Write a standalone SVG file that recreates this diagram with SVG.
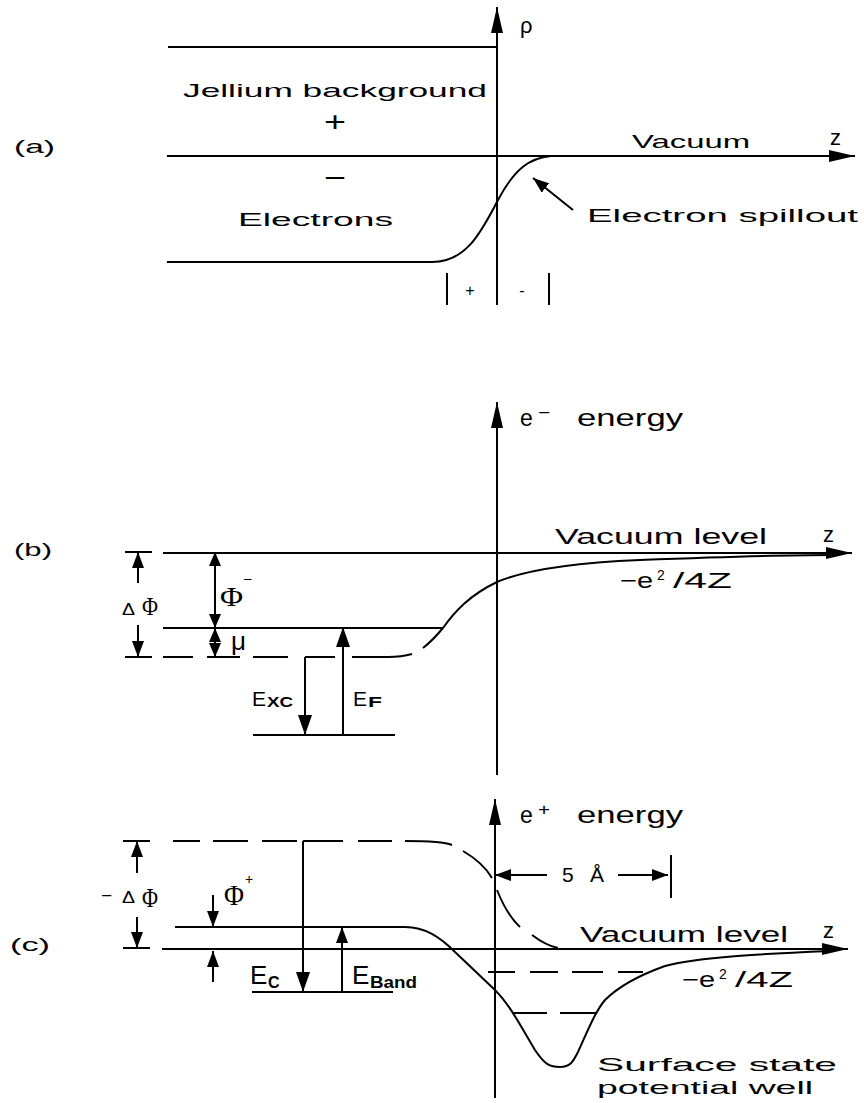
<svg xmlns="http://www.w3.org/2000/svg" width="864" height="1103" viewBox="0 0 864 1103">
<style>
.ln{fill:none;stroke:#000;stroke-width:2}
.t{font-family:"Liberation Sans",Arial,sans-serif;font-size:19px;fill:#000}
.m{font-size:22px}
.s{font-family:"Liberation Serif","Times New Roman",serif}
.b{font-weight:bold}
</style>
<defs>
<marker id="ah" viewBox="0 0 16 12" markerWidth="16" markerHeight="12" refX="16" refY="6" orient="auto-start-reverse" markerUnits="userSpaceOnUse"><path d="M0,0 L16,6 L0,12 z"/></marker>
<marker id="ahb" viewBox="0 0 20 14" markerWidth="20" markerHeight="14" refX="20" refY="7" orient="auto-start-reverse" markerUnits="userSpaceOnUse"><path d="M0,0 L20,7 L0,14 z"/></marker>
<marker id="mh" viewBox="0 0 14 12" markerWidth="14" markerHeight="12" refX="14" refY="6" orient="auto-start-reverse" markerUnits="userSpaceOnUse"><path d="M0,0 L14,6 L0,12 z"/></marker>
<marker id="ax" viewBox="0 0 26 12" markerWidth="26" markerHeight="12" refX="26" refY="6" orient="auto" markerUnits="userSpaceOnUse"><path d="M0,0 L26,6 L0,12 z"/></marker>
</defs>
<rect width="864" height="1103" fill="#fff"/>

<g id="panel-a">
<g id="connectors-a" class="ln">
<path d="M497,305 V7" marker-end="url(#ax)"/>
<path d="M168,47 H497"/>
<path d="M167,156 H855" marker-end="url(#ax)"/>
<path d="M167,262 H432 C465,262 480,235 498,200 C515,168 530,158 551,156"/>
<path d="M573,210 L533,178" marker-end="url(#ah)"/>
<path d="M447,273 V305 M549,273 V305"/>
</g>
<g id="labels-a" class="t">
<text x="14" y="153" textLength="41" lengthAdjust="spacingAndGlyphs">(a)</text>
<text x="520" y="33" font-size="22">ρ</text>
<text x="183" y="97" textLength="304" lengthAdjust="spacingAndGlyphs">Jellium background</text>
<text x="324" y="131" font-size="28" textLength="22" lengthAdjust="spacingAndGlyphs">+</text>
<text x="324" y="187" font-size="28" textLength="22" lengthAdjust="spacingAndGlyphs">−</text>
<text x="632" y="148" textLength="118" lengthAdjust="spacingAndGlyphs">Vacuum</text>
<text x="830" y="145" font-size="22">z</text>
<text x="238" y="226" textLength="155" lengthAdjust="spacingAndGlyphs">Electrons</text>
<text x="587" y="222" textLength="271" lengthAdjust="spacingAndGlyphs">Electron spillout</text>
<text x="470" y="296" font-size="16" text-anchor="middle">+</text>
<text x="522" y="296" font-size="16" text-anchor="middle">-</text>
</g>
</g>

<g id="panel-b">
<g id="connectors-b" class="ln">
<path d="M497,775 V402" marker-end="url(#ax)"/>
<path d="M163,553 H852" marker-end="url(#ax)"/>
<path d="M125,552 H152"/>
<path d="M163,628 H443"/>
<path d="M423,648 C432,641 438,634 443,628 C455,611 470,595 497,582 C525,570 570,563 640,560 C720,557 780,555 830,555"/>
<path d="M125,657 H152 M163,657 H193 M207,657 H240 M253,657 H288 M305,657 H335 M352,657 H388 C398,657 405,656 412,654"/>
<path d="M305,657 V735" marker-end="url(#ahb)"/>
<path d="M253,735 H395"/>
<path d="M343,735 V627" marker-end="url(#ahb)"/>
<path d="M138,583 V552" marker-end="url(#ah)"/>
<path d="M138,625 V657" marker-end="url(#ah)"/>
<path d="M215,552 V628" marker-start="url(#mh)" marker-end="url(#mh)"/>
<path d="M215,628 V657" marker-start="url(#mh)" marker-end="url(#mh)"/>
</g>
<g id="labels-b" class="t">
<text x="14" y="556" textLength="38" lengthAdjust="spacingAndGlyphs">(b)</text>
<text x="520" y="426" font-size="23">e</text>
<text x="538" y="418" font-size="16" textLength="12" lengthAdjust="spacingAndGlyphs">−</text>
<text x="577" y="426" font-size="23" textLength="106" lengthAdjust="spacingAndGlyphs">energy</text>
<text x="555" y="544" class="m" textLength="212" lengthAdjust="spacingAndGlyphs">Vacuum level</text>
<text x="823" y="542" class="m">z</text>
<text x="620" y="588" class="m" textLength="33" lengthAdjust="spacingAndGlyphs">−e</text>
<text x="657" y="580" font-size="14">2</text>
<text x="673" y="588" class="m" textLength="59" lengthAdjust="spacingAndGlyphs">/4Z</text>
<text x="122" y="615" font-size="17" textLength="13" lengthAdjust="spacingAndGlyphs">Δ</text>
<text x="142" y="615" class="s" font-size="26" textLength="16" lengthAdjust="spacingAndGlyphs">Φ</text>
<text x="220" y="606" class="s" font-size="28" textLength="23" lengthAdjust="spacingAndGlyphs">Φ</text>
<text x="243" y="584" font-size="14" textLength="9" lengthAdjust="spacingAndGlyphs">−</text>
<text x="231" y="650" font-size="26">μ</text>
<text x="252" y="706" font-size="21">E</text>
<text x="267" y="707" font-size="14" class="b" textLength="26" lengthAdjust="spacingAndGlyphs">XC</text>
<text x="353" y="706" font-size="21">E</text>
<text x="368" y="707" font-size="14" class="b" textLength="14" lengthAdjust="spacingAndGlyphs">F</text>
</g>
</g>

<g id="panel-c">
<g id="connectors-c" class="ln">
<path d="M495,1098 V799" marker-end="url(#ax)"/>
<path d="M162,949 H848" marker-end="url(#ax)"/>
<path d="M123,948 H150"/>
<path d="M123,841 H150 M173,841 H200 M213,841 H248 M262,841 H297 M303,841 H343 M358,841 H392 M405,841 C430,841 445,842 452,845 M463,851 C475,858 485,866 492,878 M497,890 C503,905 510,918 520,927 M532,935 C540,941 548,946 558,948"/>
<path d="M175,927 H405 C425,927 440,937 455,952 L495,990 C510,1005 520,1025 535,1050 C545,1065 550,1067 560,1067 C570,1067 573,1062 578,1052 C588,1030 595,1012 605,1000 C620,985 640,975 665,966 C700,957 760,954 830,951"/>
<path d="M488,972 H515 M530,972 H558 M572,972 H603 M618,972 H643"/>
<path d="M513,1013 H547 M560,1013 H597"/>
<path d="M547,875 H495" marker-end="url(#ah)"/>
<path d="M618,875 H668" marker-end="url(#ah)"/>
<path d="M671,855 V898"/>
<path d="M303,841 V992" marker-end="url(#ahb)"/>
<path d="M252,992 H393"/>
<path d="M342,992 V927" marker-end="url(#ah)"/>
<path d="M137,873 V841" marker-end="url(#ah)"/>
<path d="M137,917 V948" marker-end="url(#ah)"/>
<path d="M213,895 V927" marker-end="url(#ah)"/>
<path d="M213,982 V951" marker-end="url(#ah)"/>
</g>
<g id="labels-c" class="t">
<text x="10" y="951" textLength="40" lengthAdjust="spacingAndGlyphs">(c)</text>
<text x="520" y="823" font-size="23">e</text>
<text x="538" y="815" font-size="16" textLength="12" lengthAdjust="spacingAndGlyphs">+</text>
<text x="577" y="823" font-size="23" textLength="106" lengthAdjust="spacingAndGlyphs">energy</text>
<text x="562" y="882" font-size="21">5</text>
<text x="590" y="882" font-size="21">Å</text>
<text x="580" y="942" class="m" textLength="208" lengthAdjust="spacingAndGlyphs">Vacuum level</text>
<text x="823" y="938" class="m">z</text>
<text x="682" y="987" class="m" textLength="33" lengthAdjust="spacingAndGlyphs">−e</text>
<text x="719" y="979" font-size="14">2</text>
<text x="735" y="987" class="m" textLength="58" lengthAdjust="spacingAndGlyphs">/4Z</text>
<text x="101" y="901" font-size="16" textLength="11" lengthAdjust="spacingAndGlyphs">−</text>
<text x="122" y="903" font-size="17" textLength="13" lengthAdjust="spacingAndGlyphs">Δ</text>
<text x="142" y="907" class="s" font-size="28" textLength="16" lengthAdjust="spacingAndGlyphs">Φ</text>
<text x="224" y="905" class="s" font-size="30" textLength="20" lengthAdjust="spacingAndGlyphs">Φ</text>
<text x="245" y="884" font-size="14">+</text>
<text x="250" y="984" font-size="26">E</text>
<text x="268" y="988" font-size="16" class="b">C</text>
<text x="352" y="984" font-size="26">E</text>
<text x="370" y="988" font-size="16" class="b" textLength="47" lengthAdjust="spacingAndGlyphs">Band</text>
<text x="597" y="1071" font-size="19" textLength="240" lengthAdjust="spacingAndGlyphs">Surface state</text>
<text x="597" y="1094" font-size="19" textLength="216" lengthAdjust="spacingAndGlyphs">potential well</text>
</g>
</g>
</svg>
